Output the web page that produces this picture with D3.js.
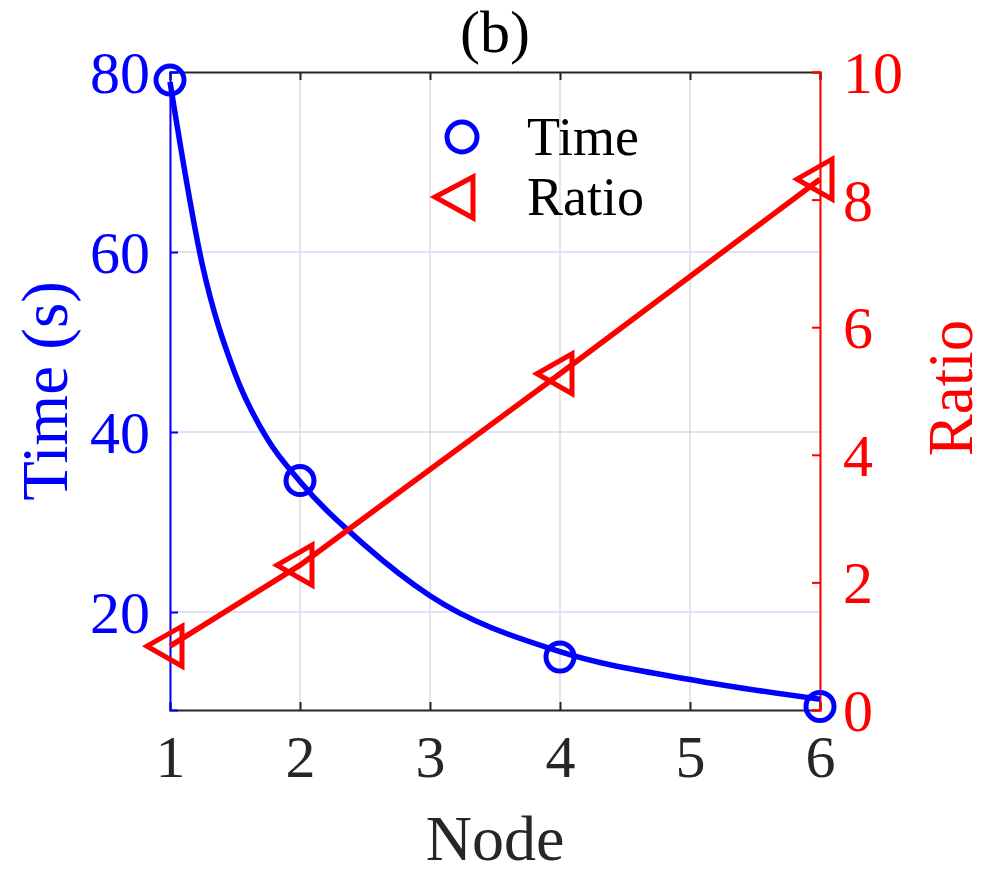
<!DOCTYPE html>
<html>
<head>
<meta charset="utf-8">
<script src="https://cdn.jsdelivr.net/npm/d3@7/dist/d3.min.js"></script>
<style>
  html, body { margin: 0; padding: 0; background: #fff; }
  svg { display: block; }
  text { font-family: "Liberation Serif", "Times New Roman", serif; }
</style>
</head>
<body>
<svg id="chart" width="1000" height="886"></svg>
<script>
// ---- data ----
const nodes = [1, 2, 4, 6];
const timeValues = [79.1, 34.6, 15.0, 9.5];
const ratioValues = [1.0, 2.27, 5.27, 8.32];
// fitted time curve as drawn in the figure
const fitNodes = [1, 1.25, 1.5, 1.75, 2, 2.5, 3, 4, 5, 6];
const fitTime  = [78.9, 58.5, 46.5, 39.2, 34.5, 27.4, 21.8, 15.6, 12.5, 10.3];
const xTicks = [1, 2, 3, 4, 5, 6];
const leftTicks = [20, 40, 60, 80];
const rightTicks = [0, 2, 4, 6, 8, 10];
const legendLabels = ["Time", "Ratio"];

// ---- layout ----
const L = 170, R = 820, T = 72, B = 710;
const BLUE = "#0000ff", RED = "#ff0000", DARK = "#262626";
const svg = d3.select("#chart");

const x = d3.scaleLinear().domain([1, 6]).range([L, R]);
const yL = d3.scaleLinear().domain([80 - (B - T) / 9, 80]).range([B, T]);
const yR = d3.scaleLinear().domain([0, 10]).range([B, T]);

// grid
const grid = svg.append("g");
grid.selectAll("line.gx").data(xTicks).join("line")
  .attr("x1", d => x(d)).attr("x2", d => x(d))
  .attr("y1", T).attr("y2", B)
  .attr("stroke", "#dcdcdc").attr("stroke-width", 1.5);
grid.selectAll("line.gy").data(leftTicks.filter(d => d < 80)).join("line")
  .attr("x1", L).attr("x2", R)
  .attr("y1", d => yL(d)).attr("y2", d => yL(d))
  .attr("stroke", "#d6d6ff").attr("stroke-width", 1.5);

// axes
const fontTick = 60;
const xAxisB = d3.axisBottom(x).tickValues(xTicks).tickSize(-8).tickFormat(d3.format("d"));
const gB = svg.append("g").attr("transform", `translate(0,${B})`).call(xAxisB);
const xAxisT = d3.axisTop(x).tickValues(xTicks).tickSize(-8).tickFormat("");
const gT = svg.append("g").attr("transform", `translate(0,${T})`).call(xAxisT);
[gB, gT].forEach(g => {
  g.select(".domain").attr("stroke", DARK).attr("stroke-width", 2);
  g.selectAll(".tick line").attr("stroke", DARK).attr("stroke-width", 2);
});
gB.selectAll(".tick text").attr("fill", DARK).attr("font-size", fontTick)
  .attr("font-family", "Liberation Serif").attr("dy", "0.71em").attr("y", 24);

const yAxisL = d3.axisLeft(yL).tickValues(leftTicks).tickSize(-8).tickPadding(20);
const gL = svg.append("g").attr("transform", `translate(${L},0)`).call(yAxisL);
gL.select(".domain").attr("stroke", BLUE).attr("stroke-width", 2);
gL.selectAll(".tick line").attr("stroke", BLUE).attr("stroke-width", 2);
gL.selectAll(".tick text").attr("fill", BLUE).attr("font-size", fontTick)
  .attr("font-family", "Liberation Serif").attr("dy", "0.34em");

const yAxisR = d3.axisRight(yR).tickValues(rightTicks).tickSize(-8).tickPadding(23);
const gR = svg.append("g").attr("transform", `translate(${R},0)`).call(yAxisR);
gR.select(".domain").attr("stroke", RED).attr("stroke-width", 2);
gR.selectAll(".tick line").attr("stroke", RED).attr("stroke-width", 2);
gR.selectAll(".tick text").attr("fill", RED).attr("font-size", fontTick)
  .attr("font-family", "Liberation Serif").attr("dy", "0.34em");

// labels
svg.append("text").attr("x", (L + R) / 2).attr("y", 860).attr("text-anchor", "middle")
  .attr("font-size", 64).attr("fill", DARK).text("Node");
svg.append("text").attr("transform", `translate(67,${(T + B) / 2}) rotate(-90)`)
  .attr("text-anchor", "middle").attr("font-size", 65).attr("fill", BLUE).text("Time (s)");
svg.append("text").attr("transform", `translate(972,${(T + B) / 2 - 3}) rotate(-90)`)
  .attr("text-anchor", "middle").attr("font-size", 63).attr("fill", RED).text("Ratio");
svg.append("text").attr("x", (L + R) / 2).attr("y", 52).attr("text-anchor", "middle")
  .attr("font-size", 60).attr("fill", "#000").text("(b)");

// triangle marker path (pointing left)
const tri = (cx, cy) => `M${cx - 23},${cy} L${cx + 12},${cy - 20} L${cx + 12},${cy + 20} Z`;

// time series
const fitData = fitNodes.map((n, i) => [n, fitTime[i]]);
svg.append("path").datum(fitData)
  .attr("d", d3.line().x(d => x(d[0])).y(d => yL(d[1])).curve(d3.curveMonotoneX))
  .attr("fill", "none").attr("stroke", BLUE).attr("stroke-width", 5.5);
const timeData = nodes.map((n, i) => [n, timeValues[i]]);
svg.selectAll("circle.tm").data(timeData).join("circle")
  .attr("cx", d => x(d[0])).attr("cy", d => yL(d[1])).attr("r", 14)
  .attr("fill", "none").attr("stroke", BLUE).attr("stroke-width", 5);

// ratio series
const ratioData = nodes.map((n, i) => [n, ratioValues[i]]);
svg.append("path").datum(ratioData)
  .attr("d", d3.line().x(d => x(d[0])).y(d => yR(d[1])))
  .attr("fill", "none").attr("stroke", RED).attr("stroke-width", 5.5);
svg.selectAll("path.rm").data(ratioData).join("path")
  .attr("d", d => tri(x(d[0]), yR(d[1])))
  .attr("fill", "none").attr("stroke", RED).attr("stroke-width", 5).attr("stroke-linejoin", "miter");

// legend
const lg = svg.append("g");
lg.append("circle").attr("cx", 462).attr("cy", 137).attr("r", 15)
  .attr("fill", "none").attr("stroke", BLUE).attr("stroke-width", 5);
lg.append("path").attr("d", `M435,197 L473,177 L473,218 Z`)
  .attr("fill", "none").attr("stroke", RED).attr("stroke-width", 5);
lg.selectAll("text").data(legendLabels).join("text")
  .attr("x", 527).attr("y", (d, i) => 155 + i * 60)
  .attr("font-size", 54).attr("fill", "#000").text(d => d);
</script>
</body>
</html>
